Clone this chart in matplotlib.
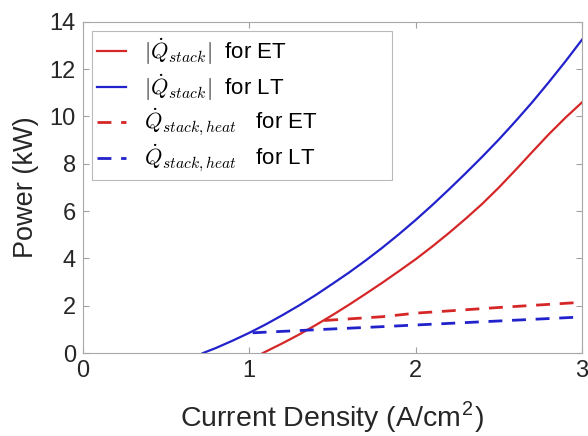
import matplotlib
matplotlib.use('Agg')
import matplotlib.pyplot as plt

plt.rcParams['font.family'] = ['Liberation Sans', 'DejaVu Sans']
plt.rcParams['mathtext.fontset'] = 'cm'

# values
j_et = [1.08, 1.2, 1.3, 1.4, 1.5, 1.6, 1.7, 1.8, 1.9, 2.0, 2.1, 2.2,
        2.3, 2.4, 2.5, 2.6, 2.7, 2.8, 2.9, 3.0]
q_et = [0.0, 0.42, 0.79, 1.19, 1.61, 2.05, 2.51, 2.98, 3.47, 3.97, 4.51, 5.08,
        5.68, 6.31, 7.0, 7.74, 8.5, 9.25, 9.95, 10.6]

j_lt = [0.72, 0.8, 0.9, 1.0, 1.1, 1.2, 1.3, 1.4, 1.5, 1.6, 1.7, 1.8, 1.9,
        2.0, 2.1, 2.2, 2.3, 2.4, 2.5, 2.6, 2.7, 2.8, 2.9, 3.0]
q_lt = [0.0, 0.22, 0.53, 0.86, 1.22, 1.61, 2.02, 2.46, 2.93, 3.41, 3.92, 4.46,
        5.03, 5.63, 6.26, 6.92, 7.6, 8.3, 9.03, 9.8, 10.6, 11.45, 12.33, 13.25]

j_heat_et = [1.45, 1.8, 2.0, 2.5, 3.0]
q_heat_et = [1.38, 1.54, 1.69, 1.93, 2.15]

j_heat_lt = [1.02, 1.4, 1.8, 2.0, 2.5, 3.0]
q_heat_lt = [0.86, 0.99, 1.12, 1.19, 1.36, 1.53]

labels = [r'$|\dot{Q}_{stack}|$  for ET', r'$|\dot{Q}_{stack}|$  for LT',
          r'$\dot{Q}_{stack,heat}$   for ET', r'$\dot{Q}_{stack,heat}$   for LT']

red = '#d62728'
blue = '#2222cc'

fig = plt.figure(figsize=(5.88, 4.36), dpi=100)
ax = fig.add_axes([0.141, 0.19, 0.849, 0.76])

ax.plot(j_et, q_et, color=red, lw=1.6, label=labels[0])
ax.plot(j_lt, q_lt, color=blue, lw=1.6, label=labels[1])
ax.plot(j_heat_et, q_heat_et, color=red, lw=2, ls=(0, (5, 3.5)),
        label=labels[2] + '\u00a0' * 12)
ax.plot(j_heat_lt, q_heat_lt, color=blue, lw=2, ls=(0, (5, 3.5)),
        label=labels[3])

ax.set_xlim(0, 3)
ax.set_ylim(0, 14)
ax.set_xticks([0, 1, 2, 3])
ax.set_yticks(range(0, 15, 2))
ax.tick_params(direction='in', top=True, right=True, labelsize=17,
               color='#a0a0a0', labelcolor='#262626', length=4, pad=5)
for s in ax.spines.values():
    s.set_color('#a8a8a8')

ax.set_xlabel(r'Current Density (A/cm$^\mathregular{2}$)', fontsize=20.5,
              color='#262626', labelpad=13)
ax.set_ylabel('Power (kW)', fontsize=19.5, color='#262626', labelpad=8)

leg = ax.legend(loc='upper left', fontsize=16, frameon=True, fancybox=False,
                edgecolor='#a8a8a8', borderaxespad=0.4, handlelength=1.3,
                handletextpad=0.8, labelspacing=0.2, borderpad=0.25)
leg.get_frame().set_linewidth(0.8)

fig.savefig('out.png', dpi=100)
